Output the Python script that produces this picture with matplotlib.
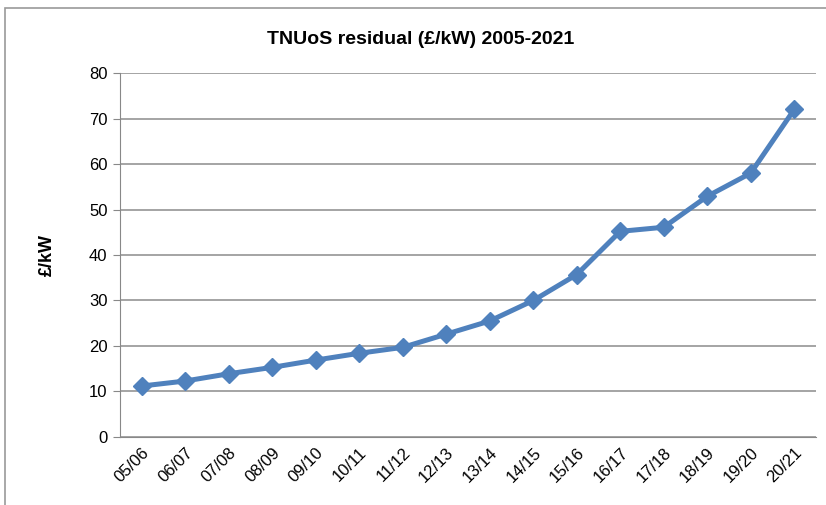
import matplotlib
matplotlib.use("Agg")
import matplotlib.pyplot as plt
from matplotlib.patches import Rectangle

# data
years = ["05/06", "06/07", "07/08", "08/09", "09/10", "10/11", "11/12", "12/13",
         "13/14", "14/15", "15/16", "16/17", "17/18", "18/19", "19/20", "20/21"]
residual = [11.2, 12.3, 13.9, 15.3, 16.9, 18.4, 19.7, 22.6,
            25.5, 30.0, 35.7, 45.2, 46.1, 52.9, 58.0, 72.0]
y_ticks = [0, 10, 20, 30, 40, 50, 60, 70, 80]

plt.rcParams["font.family"] = ["Liberation Sans Narrow", "Liberation Sans", "DejaVu Sans"]

fig = plt.figure(figsize=(8.26, 5.05), dpi=100)
ax = fig.add_axes([0.1453, 0.1347, 0.8426, 0.7207])

# outer chart frame
fig.patches.append(Rectangle((5 / 826, -0.1), 1.2, 1 - 8 / 505 + 0.1,
                             transform=fig.transFigure, fill=False,
                             edgecolor="#9a9a9a", linewidth=1.2))

x = list(range(len(years)))
ax.plot(x, residual, color="#4F81BD", linewidth=3.6, marker="D",
        markersize=9, markeredgecolor="#4F81BD", zorder=3)

ax.set_xlim(-0.5, len(years) - 0.5)
ax.set_ylim(0, 80)
ax.set_yticks(y_ticks)
ax.set_xticks(x)
ax.set_xticklabels(years, rotation=45, ha="right", rotation_mode="anchor")
ax.tick_params(axis="x", length=0, labelsize=12, pad=6)
ax.tick_params(axis="y", length=5, color="#888888", labelsize=12, pad=4)

ax.grid(axis="y", color="#8c8c8c", linewidth=1.1)
ax.set_axisbelow(True)
for s in ["top", "right"]:
    ax.spines[s].set_visible(False)
ax.spines["left"].set_color("#888888")
ax.spines["bottom"].set_color("#888888")

fig.text(421 / 826, 1 - 40 / 505, "TNUoS residual (£/kW) 2005-2021",
         fontsize=14, fontweight="bold", ha="center", va="center")
ax.set_ylabel("£/kW", fontsize=13, fontweight="bold", labelpad=24)

fig.savefig("out.png", dpi=100)
